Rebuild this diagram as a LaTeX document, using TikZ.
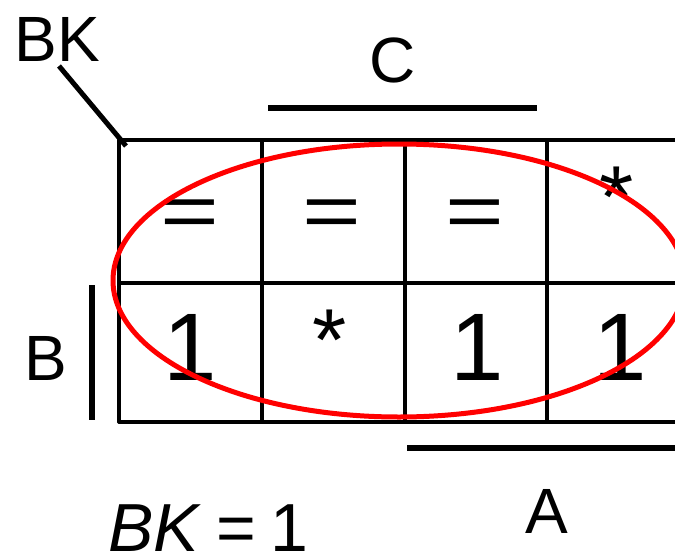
\documentclass[tikz,border=0pt]{standalone}
\usepackage{fontspec}
\setmainfont{Liberation Sans}
\usetikzlibrary{shapes.geometric}
\begin{document}
\begin{tikzpicture}[x=1pt,y=-1pt,
  gridline/.style={line width=3.2pt,line cap=round},
  barline/.style={line width=5.5pt},
  lbl/.style={inner sep=0pt,anchor=base,font=\fontsize{64}{70}\selectfont},
  cell/.style={inner sep=0pt,anchor=base,font=\fontsize{96}{100}\selectfont},
  star/.style={inner sep=0pt,anchor=base,font=\fontsize{88}{90}\selectfont},
  loop/.style={draw=red,line width=5pt}]
\useasboundingbox (0,0) rectangle (675,557);
\clip (0,0) rectangle (675,557);
% grid coordinates
\coordinate (g00) at (119,140);
\coordinate (g0e) at (680,140);
\coordinate (g10) at (119,283);
\coordinate (g1e) at (680,283);
\coordinate (g20) at (119,422);
\coordinate (g2e) at (680,422);
\foreach \x/\n in {119/a,262/b,405/c,547/d}{
  \coordinate (t\n) at (\x,140);
  \coordinate (b\n) at (\x,422);
  \draw[gridline] (t\n) -- (b\n);
}
\draw[gridline] (g00) -- (g0e);
\draw[gridline] (g10) -- (g1e);
\draw[gridline] (g20) -- (g2e);
% corner label
\node[lbl] (bk) at (57,61) {BK};
\coordinate (diagS) at (59,66);
\coordinate (diagE) at (126,146);
\draw[line width=5pt] (diagS) -- (diagE);
% variable labels and bars
\node[lbl] (c) at (393,82) {C};
\coordinate (cb1) at (268,108);
\coordinate (cb2) at (537,108);
\draw[barline] (cb1) -- (cb2);
\node[lbl] (b) at (46,380) {B};
\coordinate (bb1) at (92,285);
\coordinate (bb2) at (92,420);
\draw[barline] (bb1) -- (bb2);
\node[lbl] (a) at (547,533) {A};
\coordinate (ab1) at (407,448);
\coordinate (ab2) at (680,448);
\draw[barline] (ab1) -- (ab2);
% cells
\node[cell] (e1) at (190,237) {\scalebox{1.05}[0.8]{=}};
\node[cell] (e2) at (332,237) {\scalebox{1.05}[0.8]{=}};
\node[cell] (e3) at (475,237) {\scalebox{1.05}[0.8]{=}};
\node[star] (s4) at (617,227) {*};
\node[cell] (o1) at (190,380) {1};
\node[star] (s2) at (330,370) {*};
\node[cell] (o3) at (477,380) {1};
\node[cell] (o4) at (620,380) {1};
% loop
\node[loop,ellipse,minimum width=572pt,minimum height=273pt,inner sep=0pt] (grp) at (399,280.5) {};
% result
\node[inner sep=0pt,anchor=base west,font=\fontsize{68}{70}\selectfont] (res) at (108,551) {\textit{BK}\hspace{15pt}=\hspace{14pt}1};
\end{tikzpicture}
\end{document}
